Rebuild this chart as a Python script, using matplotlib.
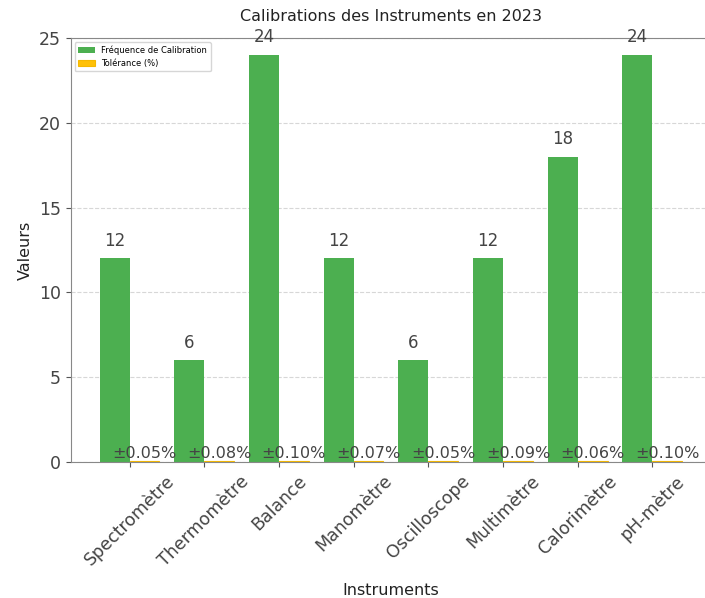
import matplotlib.pyplot as plt
import numpy as np

# Données des calibrations
instruments = ["Spectromètre", "Thermomètre", "Balance", "Manomètre",
               "Oscilloscope", "Multimètre", "Calorimètre", "pH-mètre"]
frequence = [12, 6, 24, 12, 6, 12, 18, 24]
tolerance = [0.05, 0.08, 0.10, 0.07, 0.05, 0.09, 0.06, 0.10]

plt.rcParams['font.family'] = ['DejaVu Sans']
gris = "#444444"

x = np.arange(len(instruments))
largeur = 0.4

fig, ax = plt.subplots(figsize=(7.05, 5.98), dpi=100)
b1 = ax.bar(x - largeur / 2, frequence, largeur, color="#4CAF50",
            label="Fréquence de Calibration")
b2 = ax.bar(x + largeur / 2, tolerance, largeur, color="#FFC107",
            edgecolor="#F5B800", linewidth=0.8, label="Tolérance (%)")

for rect, v in zip(b1, frequence):
    ax.text(rect.get_x() + rect.get_width() / 2, v + 0.5, f"{v}",
            ha="center", va="bottom", fontsize=12, color=gris)
for rect, v in zip(b2, tolerance):
    ax.text(rect.get_x() + rect.get_width() / 2, v, f"±{v:.2f}%",
            ha="center", va="bottom", fontsize=11.5, color=gris)

ax.set_title("Calibrations des Instruments en 2023", fontsize=11.5, color="#222222", pad=12)
ax.set_xlabel("Instruments", fontsize=11.5, labelpad=10, color="#222222")
ax.set_ylabel("Valeurs", fontsize=11.5, color="#222222")
ax.set_xticks(x)
ax.set_xticklabels(instruments, rotation=45, fontsize=12.5)
ax.tick_params(colors="#555555", labelcolor=gris, labelsize=12.5)
for s in ax.spines.values():
    s.set_color("#888888")
ax.set_ylim(0, 25)
ax.yaxis.grid(True, linestyle="--", alpha=0.5)
ax.set_axisbelow(True)
ax.legend(loc="upper left", fontsize=6)

plt.subplots_adjust(left=0.100, right=1.009, top=0.937, bottom=0.227)
plt.savefig("out.png")
